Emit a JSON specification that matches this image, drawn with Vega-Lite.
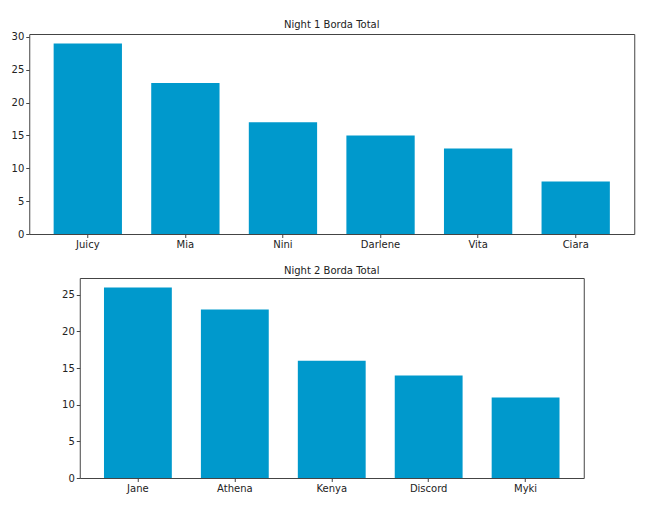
{
  "$schema": "https://vega.github.io/schema/vega-lite/v6.json",
  "padding": {"left": 10, "top": 19, "right": 5, "bottom": 5},
  "background": "white",
  "config": {
    "font": "DejaVu Sans",
    "view": {"stroke": "#444", "strokeWidth": 1},
    "axis": {
      "grid": false,
      "domain": false,
      "tickColor": "#444",
      "tickSize": 3.5,
      "labelFontSize": 10,
      "labelColor": "#222",
      "labelPadding": 2,
      "title": null
    },
    "title": {"fontSize": 10, "fontWeight": "normal", "color": "#222", "offset": 2},
    "concat": {"spacing": 15}
  },
  "center": true,
  "vconcat": [
    {
      "title": "Night 1 Borda Total",
      "width": 605,
      "height": 200,
      "data": {"values": [
        {"name": "Juicy", "score": 29},
        {"name": "Mia", "score": 23},
        {"name": "Nini", "score": 17},
        {"name": "Darlene", "score": 15},
        {"name": "Vita", "score": 13},
        {"name": "Ciara", "score": 8}
      ]},
      "mark": {"type": "bar", "color": "#0099CC"},
      "encoding": {
        "x": {"field": "name", "type": "nominal", "sort": null,
              "scale": {"paddingInner": 0.3, "paddingOuter": 0.25},
              "axis": {"labelAngle": 0}},
        "y": {"field": "score", "type": "quantitative",
              "scale": {"domain": [0, 30.45], "nice": false},
              "axis": {"values": [0, 5, 10, 15, 20, 25, 30]}}
      }
    },
    {
      "title": "Night 2 Borda Total",
      "width": 504,
      "height": 200,
      "data": {"values": [
        {"name": "Jane", "score": 26},
        {"name": "Athena", "score": 23},
        {"name": "Kenya", "score": 16},
        {"name": "Discord", "score": 14},
        {"name": "Myki", "score": 11}
      ]},
      "mark": {"type": "bar", "color": "#0099CC"},
      "encoding": {
        "x": {"field": "name", "type": "nominal", "sort": null,
              "scale": {"paddingInner": 0.3, "paddingOuter": 0.25},
              "axis": {"labelAngle": 0}},
        "y": {"field": "score", "type": "quantitative",
              "scale": {"domain": [0, 27.3], "nice": false},
              "axis": {"values": [0, 5, 10, 15, 20, 25]}}
      }
    }
  ]
}
